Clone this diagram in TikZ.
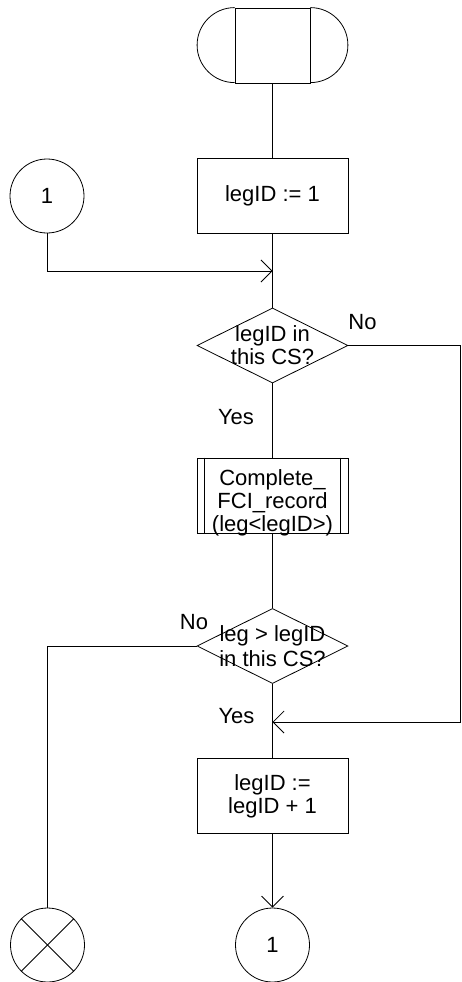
\documentclass[tikz,border=0pt]{standalone}
\usepackage{fontspec}
\setmainfont{Liberation Sans}
\usetikzlibrary{arrows.meta,shapes.geometric}
\begin{document}
\begin{tikzpicture}[x=1pt,y=-1pt,
  line width=0.8pt,
  every node/.style={font=\fontsize{22}{23}\selectfont},
  proc/.style={draw, rectangle, minimum width=151pt, minimum height=75pt, inner sep=0pt, align=center},
  decision/.style={draw, diamond, minimum width=151pt, minimum height=75pt, inner sep=0pt},
  conn/.style={draw, circle, minimum size=74pt, inner sep=0pt},
  txt/.style={inner sep=0pt, align=center},
  lbl/.style={inner sep=0pt},
  flow/.style={-{Straight Barb[length=11pt,width=22pt]}}
]
\useasboundingbox (0,0) rectangle (461,982);

% start terminal
\node[draw, rectangle, minimum width=75pt, minimum height=75pt, inner sep=0pt] (start) at (272.5,45.5) {};
\draw (start.north west) arc[start angle=90, end angle=270, radius=37.5pt];
\draw (start.north east) arc[start angle=90, end angle=-90, radius=37.5pt];

\node[proc] (b1) at (272.5,195.5) {legID := 1};
\node[conn] (c1) at (47,196) {1};

\node[decision] (d1) at (272.5,345.5) {};
\node[txt] (t1) at (272.5,345) {legID in\\this CS?};

\node[proc] (sub) at (272.5,495.5) {};
\draw ([xshift=8pt]sub.north west) -- ([xshift=8pt]sub.south west);
\draw ([xshift=-8pt]sub.north east) -- ([xshift=-8pt]sub.south east);
\node[txt] (t2) at (272.5,503) {Complete\_\\FCI\_record\\(leg<legID>)};

\node[decision] (d2) at (272.5,646) {};
\node[txt, font=\fontsize{22}{25}\selectfont] (t3) at (272.5,646) {leg > legID\\in this CS?};

\node[proc, align=center] (b3) at (272.5,796) {legID :=\\legID + 1};

\node[conn] (stop) at (47.5,945) {};
\draw (stop.north west) -- (stop.south east);
\draw (stop.north east) -- (stop.south west);

\node[conn] (c2) at (272.5,945) {1};

% labels
\node[lbl] (no1) at (362.5,322) {No};
\node[lbl] (yes1) at (236,417) {Yes};
\node[lbl] (no2) at (194,622) {No};
\node[lbl] (yes2) at (236.5,716) {Yes};

% coordinates
\coordinate (m1) at (272.5,271);
\coordinate (r) at (460,722);
\coordinate (m2) at (272.5,722);

% connectors
\draw (start.south) -- (b1.north);
\draw (b1.south) -- (d1.north);
\draw[flow] (c1.south) |- (m1);
\draw (d1.south) -- (sub.north);
\draw (sub.south) -- (d2.north);
\draw (d2.south) -- (b3.north);
\draw[flow] (d1.east) -| (r) -- (m2);
\draw (d2.west) -| (stop.north);
\draw[flow] (b3.south) -- (c2.north);
\end{tikzpicture}
\end{document}
